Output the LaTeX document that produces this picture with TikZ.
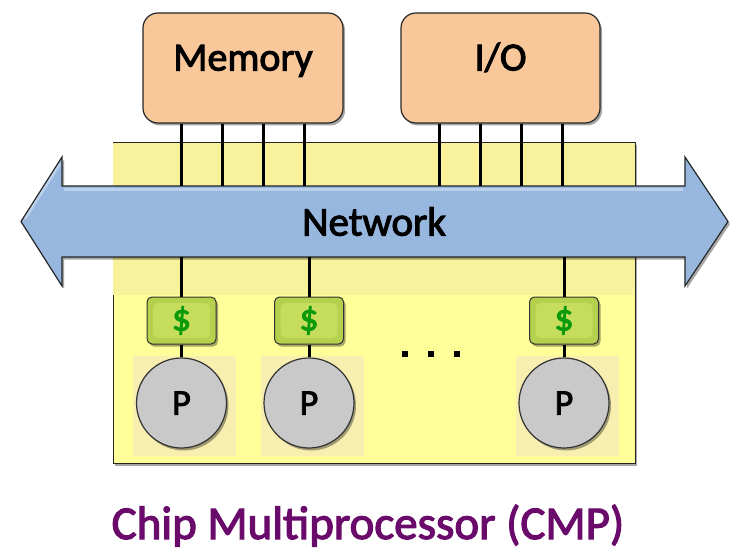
\documentclass[tikz,border=0pt]{standalone}
\usepackage{fontspec}
\setmainfont{Carlito}[RawFeature={embolden=2.5}]
\usepackage{tikz}
\usetikzlibrary{positioning,calc,shadows}
\definecolor{unitpeach}{HTML}{F8C79A}
\definecolor{chipyellow}{HTML}{FFFF99}
\definecolor{chipband}{HTML}{F9F29C}
\definecolor{tilebeige}{HTML}{F7EEB0}
\definecolor{netblue}{HTML}{97B7DF}
\definecolor{cacheouter}{HTML}{B4D04C}
\definecolor{cacheinner}{HTML}{C6DC5C}
\definecolor{dollargreen}{HTML}{0A9A0A}
\definecolor{procgray}{HTML}{C9C9C9}
\definecolor{titlepurple}{HTML}{6A0A6A}

\begin{document}
\begin{tikzpicture}[x=1pt, y=-1pt,
    softshadow/.style={drop shadow={shadow xshift=2pt, shadow yshift=-2.5pt, opacity=.35, fill=black}},
    unit/.style={draw=black!85, line width=1.2pt, rounded corners=15pt, fill=unitpeach, softshadow, minimum width=#1, minimum height=110pt, text height=0.7em, text depth=0.2em, font=\fontsize{40}{48}\selectfont},
    chip/.style={draw=black!85, line width=1pt, fill=chipyellow, minimum width=522pt, minimum height=320pt, softshadow},
    tile/.style={fill=tilebeige, minimum width=103pt, minimum height=100pt, inner sep=0pt},
    cache/.style={draw=black!80, line width=1pt, rounded corners=5pt, fill=cacheouter, minimum width=69pt, minimum height=47pt, softshadow,
        path picture={\fill[cacheinner] ([shift={(6pt,-6pt)}]path picture bounding box.north west) rectangle ([shift={(-6pt,6pt)}]path picture bounding box.south east);},
        text=dollargreen, font=\fontsize{38}{44}\selectfont},
    proc/.style={circle, draw=black!80, line width=1.2pt, fill=procgray, minimum size=90pt, softshadow, font=\fontsize{36}{42}\selectfont},
    dotmark/.style={fill=black, minimum size=6pt, inner sep=0pt},
    wire/.style={line width=3pt, black},
    nettext/.style={minimum width=623pt, minimum height=71pt, font=\fontsize{41}{48}\selectfont},
]
\useasboundingbox (0,0) rectangle (749,556);

\node[chip] (chip) at (374,303) {};
\coordinate (bandend) at (634.5,295);
\fill[chipband] ([shift={(0.5pt,-0.5pt)}]chip.north west) rectangle (bandend);

\node[tile] (t1) at (184.5,406) {};
\node[tile] (t2) at (312,406) {};
\node[tile] (t3) at (567,406) {};

\node[unit=200pt] (mem) at (243,68) {Memory};
\node[unit=199pt] (io) at (500.5,68) {I/O};

\draw[draw=black!85, line width=1.2pt, fill=netblue, softshadow]
    (21,221.5) -- (62,157) -- (62,186) -- (685,186) -- (685,157) -- (728,221.5)
    -- (685,286) -- (685,257) -- (62,257) -- (62,286) -- cycle;
\draw[white, opacity=.35, line width=2.5pt] (25,219) -- (60,164);
\draw[white, opacity=.35, line width=2.5pt] (64,189.5) -- (683,189.5);
\node[nettext] (net) at (374,221.5) {Network};

\foreach \dx in {-61.5,-20.5,20.5,61.5} {
  \path (mem.south) ++(\dx,0) coordinate (m);
  \draw[wire] (m) -- (m |- net.north);
  \path (io.south) ++(\dx,0) coordinate (o);
  \draw[wire] (o) -- (o |- net.north);
}

\node[cache] (c1) at (181.5,320.5) {\$};
\node[cache] (c2) at (309,320.5) {\$};
\node[cache] (c3) at (564,320.5) {\$};
\node[proc] (p1) at (181.5,403) {P};
\node[proc] (p2) at (309,403) {P};
\node[proc] (p3) at (564,403) {P};

\foreach \i in {1,2,3} {
  \draw[wire] (c\i.north) -- (c\i.north |- net.south);
  \draw[wire] (c\i.south) -- (p\i.north);
}

\foreach \i in {0,1,2}
  \node[dotmark] (dot\i) at (405+26*\i,354) {};

\node[anchor=base, text=titlepurple, font=\fontsize{47}{56}\selectfont] (title) at (368,539) {Chip Multiprocessor (CMP)};
\end{tikzpicture}
\end{document}
